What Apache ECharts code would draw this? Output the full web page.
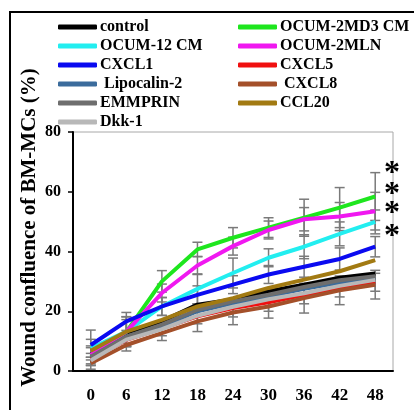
<!DOCTYPE html>
<html>
<head>
<meta charset="utf-8">
<script src="https://cdn.jsdelivr.net/npm/echarts@6/dist/echarts.min.js"></script>
<style>
  html, body { margin: 0; padding: 0; background: #fff; }
  #main { width: 414px; height: 410px; }
</style>
</head>
<body>
<div id="main"></div>
<script>
// hours after wounding
const hours = ['0', '6', '12', '18', '24', '30', '36', '42', '48'];

const control   = [5.4, 12.1, 16.6, 22.2, 23.9, 26.7, 28.9, 31.2, 32.6];
const ocum2md3  = [4.8, 13.1, 30.0, 40.7, 44.6, 48.0, 51.3, 54.7, 58.4];
const ocum12    = [7.6, 13.2, 21.6, 27.5, 32.8, 37.9, 41.6, 45.9, 49.9];
const ocum2mln  = [5.4, 13.2, 26.1, 35.3, 41.8, 47.2, 50.8, 51.7, 53.5];
const cxcl1     = [8.7, 16.6, 21.6, 25.5, 28.9, 32.3, 34.9, 37.5, 41.6];
const cxcl5     = [3.9, 10.4, 14.3, 18.3, 21.1, 23.0, 25.5, 27.8, 29.7];
const lipocalin = [4.5, 11.5, 15.0, 20.0, 22.7, 25.0, 27.5, 29.5, 31.0];
const cxcl8     = [2.6, 8.7, 12.7, 16.6, 19.6, 21.6, 24.4, 27.0, 28.9];
const emmprin   = [4.8, 11.5, 15.5, 20.5, 23.3, 25.5, 28.1, 30.4, 31.7];
const ccl20     = [6.8, 13.2, 17.1, 21.6, 24.4, 27.8, 30.6, 33.4, 37.1];
const dkk1      = [3.5, 10.5, 14.0, 18.5, 21.5, 24.0, 26.0, 28.5, 30.5];

// standard deviations (only the ones visible in the figure)
const errOcum2md3 = [3.0, 5.0, 3.6, 2.4, 3.4, 3.3, 6.2, 6.7, 8.0];
const errOcum2mln = [3.0, 5.0, 3.0, 3.0, 3.0, 3.0, 3.9, 4.7, 6.3];
const errOcum12   = [3.0, 4.0, 3.0, 5.0, 5.0, 3.0, 4.0, 4.0, 4.0];
const errCxcl1    = [5.0, 3.0, 3.0, 3.0, 3.0, 3.0, 3.5, 3.7, 3.4];
const errCxcl5    = [2.0, 2.0, 2.5, 2.5, 3.0, 3.0, 3.0, 3.0, 3.0];
const errCxcl8    = [2.0, 2.0, 2.5, 3.4, 4.1, 3.9, 5.0, 4.8, 4.8];

const leftNames  = ['control', 'OCUM-12 CM', 'CXCL1', ' Lipocalin-2', 'EMMPRIN', 'Dkk-1'];
const rightNames = ['OCUM-2MD3 CM', 'OCUM-2MLN', 'CXCL5', ' CXCL8', 'CCL20'];

const serif = "'Liberation Serif', 'Times New Roman', serif";

const lines = [
  { name: 'control',       data: control,   color: '#000000' },
  { name: 'OCUM-2MD3 CM',  data: ocum2md3,  color: '#1ee61e' },
  { name: 'OCUM-12 CM',    data: ocum12,    color: '#22eef0' },
  { name: 'OCUM-2MLN',     data: ocum2mln,  color: '#f018f0' },
  { name: 'CXCL1',         data: cxcl1,     color: '#0a0af0' },
  { name: 'CXCL5',         data: cxcl5,     color: '#f01010' },
  { name: ' Lipocalin-2',  data: lipocalin, color: '#3b6c9c' },
  { name: ' CXCL8',        data: cxcl8,     color: '#a4502a' },
  { name: 'EMMPRIN',       data: emmprin,   color: '#6e6e6e' },
  { name: 'CCL20',         data: ccl20,     color: '#a27a12' },
  { name: 'Dkk-1',         data: dkk1,      color: '#b8b8b8' }
];

const errSets = [
  [ocum2md3, errOcum2md3], [ocum2mln, errOcum2mln], [ocum12, errOcum12],
  [cxcl1, errCxcl1], [cxcl5, errCxcl5], [cxcl8, errCxcl8]
];
const errData = [];
errSets.forEach(([vals, errs]) => {
  vals.forEach((v, i) => errData.push([i, v - errs[i], v + errs[i]]));
});

const chart = echarts.init(document.getElementById('main'));

const legendBase = {
  orient: 'vertical',
  top: 14,
  itemWidth: 39,
  itemHeight: 5,
  itemGap: 3,
  icon: 'roundRect',
  textStyle: { fontFamily: serif, fontWeight: 'bold', fontSize: 16, color: '#000', padding: [0, 0, 0, -2] }
};

chart.setOption({
  animation: false,
  legend: [
    Object.assign({}, legendBase, { left: 53, data: leftNames }),
    Object.assign({}, legendBase, { left: 233, data: rightNames })
  ],
  grid: {
    left: 73, right: 21, top: 132, bottom: 39,
    show: true, borderColor: '#a8a8a8', borderWidth: 1
  },
  xAxis: {
    type: 'category',
    data: hours,
    boundaryGap: true,
    axisLine: { lineStyle: { color: '#000', width: 2 } },
    axisTick: { show: false },
    axisLabel: { fontFamily: serif, fontWeight: 'bold', fontSize: 17, color: '#000', margin: 16 }
  },
  yAxis: {
    type: 'value',
    min: 0, max: 80, interval: 20,
    name: 'Wound confluence of BM-MCs (%)',
    nameLocation: 'middle',
    nameGap: 33,
    nameMoveOverlap: false,
    nameTextStyle: { fontFamily: serif, fontWeight: 'bold', fontSize: 21, color: '#000', padding: [0, 0, 0, 48] },
    splitLine: { show: false },
    axisLine: { show: true, lineStyle: { color: '#000', width: 2 } },
    axisTick: { show: true, length: 5, inside: false, lineStyle: { color: '#000', width: 1.5 } },
    axisLabel: { fontFamily: serif, fontWeight: 'bold', fontSize: 16, color: '#000', margin: 12 }
  },
  graphic: [
    { type: 'rect', shape: { x: 10, y: 12, width: 420, height: 420 },
      style: { fill: 'none', stroke: '#000', lineWidth: 2 }, silent: true },
    { type: 'text', left: 384, top: 158, style: { text: '*', font: 'bold 32px ' + serif, fill: '#000' } },
    { type: 'text', left: 384, top: 179, style: { text: '*', font: 'bold 32px ' + serif, fill: '#000' } },
    { type: 'text', left: 384, top: 198, style: { text: '*', font: 'bold 32px ' + serif, fill: '#000' } },
    { type: 'text', left: 384, top: 221, style: { text: '*', font: 'bold 32px ' + serif, fill: '#000' } }
  ],
  series: [
    {
      type: 'custom',
      name: 'sd',
      z: 1,
      data: errData,
      renderItem: function (params, api) {
        const top = api.coord([api.value(0), api.value(2)]);
        const bot = api.coord([api.value(0), api.value(1)]);
        const w = 5;
        const st = { stroke: '#7a7a7a', lineWidth: 1.5 };
        return {
          type: 'group',
          children: [
            { type: 'line', shape: { x1: top[0], y1: top[1], x2: bot[0], y2: bot[1] }, style: st },
            { type: 'line', shape: { x1: top[0] - w, y1: top[1], x2: top[0] + w, y2: top[1] }, style: st },
            { type: 'line', shape: { x1: bot[0] - w, y1: bot[1], x2: bot[0] + w, y2: bot[1] }, style: st }
          ]
        };
      }
    }
  ].concat(lines.map(l => ({
    type: 'line',
    name: l.name,
    data: l.data,
    z: 3,
    symbol: 'none',
    smooth: false,
    itemStyle: { color: l.color },
    lineStyle: { color: l.color, width: 4 }
  })))
});
</script>
</body>
</html>
